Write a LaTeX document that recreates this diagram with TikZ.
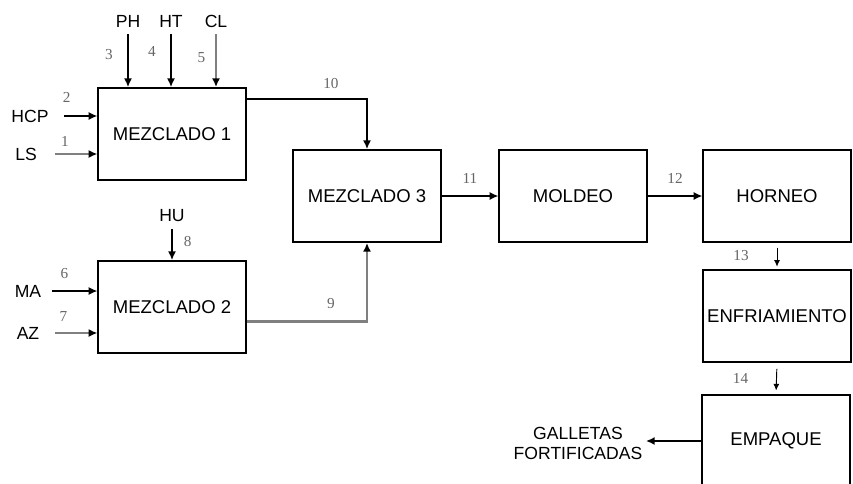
\documentclass[tikz,border=0pt]{standalone}
\usepackage{fontspec}
\setmainfont{Liberation Sans}
\newfontfamily\numfont{Liberation Serif}
\usetikzlibrary{arrows.meta}

\begin{document}
\begin{tikzpicture}[
      x=0.3mm, y=-0.3mm,
      >=Latex,
      box/.style={draw, line width=1.6pt, minimum width=44.2mm, minimum height=27.6mm, inner sep=1pt, font=\fontsize{15.8}{18}\selectfont},
      lbl/.style={inner sep=1pt, font=\fontsize{15}{17}\selectfont},
      num/.style={inner sep=1pt, text=black!60, font=\numfont\fontsize{13}{15}\selectfont},
      arr/.style={-{Latex[length=2.6mm, width=2.4mm]}, line width=1.3pt},
      garr/.style={-{Latex[length=2.6mm, width=2.4mm, color=black]}, line width=2pt, draw=black!50},
      tarr/.style={-{Latex[length=2mm, width=1.8mm]}, line width=0.8pt}
    ]
    \useasboundingbox (0,0) rectangle (853,483);
    \clip (0,0) rectangle (853,483);

    % Process blocks
    \node[box] (mez1) at (172,134) {MEZCLADO 1};
    \node[box] (mez2) at (172,307) {MEZCLADO 2};
    \node[box] (mez3) at (367,196) {MEZCLADO 3};
    \node[box] (molde) at (573,196) {MOLDEO};
    \node[box] (horno) at (777,196) {HORNEO};
    \node[box] (enfria) at (777,316) {ENFRIAMIENTO};
    \node[box] (empaq) at (776,441) {EMPAQUE};

    % Raw material labels
    \node[lbl] (ph) at (128,21) {PH};
    \node[lbl] (ht) at (171,21) {HT};
    \node[lbl] (cl) at (216,21) {CL};
    \node[lbl] (hcp) at (30,116) {HCP};
    \node[lbl] (ls) at (26,154) {LS};
    \node[lbl] (hu) at (172,216) {HU};
    \node[lbl] (ma) at (28,291) {MA};
    \node[lbl] (az) at (28,333) {AZ};
    \node[lbl, align=center] (galle) at (578,443) {GALLETAS\\FORTIFICADAS};

    % Inputs to mixer 1
    \draw[arr, shorten <=5pt] (ph.south) -- node[num, pos=0.45, left=4mm] {3} (ph.south |- mez1.north);
    \draw[arr, shorten <=5pt] (ht.south) -- node[num, pos=0.4, left=4mm] {4} (ht.south |- mez1.north);
    \draw[garr, shorten <=5pt] (cl.south) -- node[num, pos=0.5, left=2.5mm] {5} (cl.south |- mez1.north);
    \draw[arr, shorten <=12pt] (hcp.east) -- node[num, pos=0.35, above=10pt] {2} (hcp -| mez1.west);
    \draw[garr, shorten <=14pt] (ls.east) -- node[num, pos=0.45, above=4pt] {1} (ls -| mez1.west);

    % Inputs to mixer 2
    \draw[arr, shorten <=5pt] (hu.south) -- node[num, right=3mm] {8} (mez2.north);
    \draw[arr, shorten <=8pt] (ma.east) -- node[num, pos=0.4, above=9pt] {6} (ma -| mez2.west);
    \draw[garr, shorten <=12pt] (az.east) -- node[num, pos=0.4, above=8pt] {7} (az -| mez2.west);

    % Mixers into mixer 3
    \draw[arr] (mez1.25) -| node[num, pos=0.35, above=7pt] {10} (mez3.north);
    \draw[garr] (mez2.-11) -| node[num, pos=0.35, above=9pt] {9} (mez3.south);

    % Main line
    \draw[arr] (mez3.east) -- node[num, above=9pt] {11} (molde.west);
    \draw[arr] (molde.east) -- node[num, above=9pt] {12} (horno.west);
    \draw[tarr, shorten <=4pt, shorten >=2pt] (horno.south) -- node[num, left=8mm] {13} (enfria.north);
    \draw[tarr, shorten <=5pt, shorten >=3pt] (enfria.south) -- node[num, left=8mm] {14} (empaq.north);
    \draw[arr, shorten >=2pt] (empaq.west) -- (empaq.west -| galle.east);
  \end{tikzpicture}
\end{document}
